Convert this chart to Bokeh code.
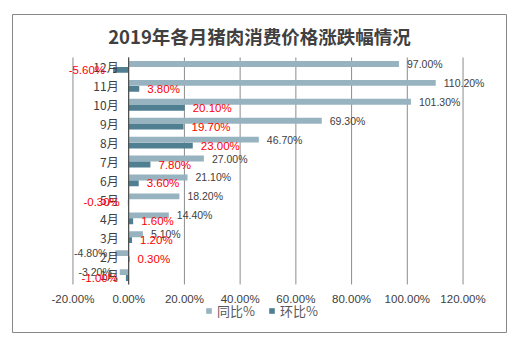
from bokeh.plotting import figure
from bokeh.models import (ColumnDataSource, Range1d, Legend, LegendItem)
from bokeh.core.properties import value
from bokeh.transform import dodge
from bokeh.embed import file_html
from bokeh.resources import INLINE

months = ["1月", "2月", "3月", "4月", "5月", "6月", "7月", "8月", "9月", "10月", "11月", "12月"]
yoy = [-3.20, -4.80, 5.10, 14.40, 18.20, 21.10, 27.00, 46.70, 69.30, 101.30, 110.20, 97.00]
mom = [-1.00, 0.30, 1.20, 1.60, -0.30, 3.60, 7.80, 23.00, 19.70, 20.10, 3.80, -5.60]
tick_values = [-20, 0, 20, 40, 60, 80, 100, 120]
tick_labels = ["-20.00%", "0.00%", "20.00%", "40.00%", "60.00%", "80.00%", "100.00%", "120.00%"]
series_names = ["同比%", "环比%"]
title_text = "2019年各月猪肉消费价格涨跌幅情况"

C_YOY = "#97B3C0"
C_MOM = "#4F7F91"
C_GRID = "#8C8C8C"
C_TEXT = "#404040"

# the frame is the whole bordered chart box; the plot area sits inside it
X_START, X_END = -41.7, 135.6
N = len(months)
Y_START, Y_END = -2.54, N + 2.27

def fmt(v):
    return f"{v:.2f}%"

pos = [i + 0.5 for i in range(N)]
src = ColumnDataSource(dict(month=months, pos=pos, yoy=yoy, mom=mom, zero=[0] * N))

def label_src(vals, positive):
    idx = [i for i, v in enumerate(vals) if (v >= 0) == positive]
    return ColumnDataSource(dict(pos=[pos[i] for i in idx],
                                 v=[vals[i] for i in idx],
                                 t=[fmt(vals[i]) for i in idx]))

p = figure(width=521, height=344, x_range=Range1d(X_START, X_END),
           y_range=Range1d(Y_START, Y_END),
           output_backend="svg", toolbar_location=None,
           min_border_left=12, min_border_right=15, min_border_top=14, min_border_bottom=12)
p.xaxis.visible = False
p.yaxis.visible = False
p.xgrid.visible = False
p.ygrid.visible = False
p.outline_line_color = "#878787"
p.outline_line_width = 1
p.background_fill_color = "white"
p.border_fill_color = "white"

# vertical grid lines over the plot area only
grid_src = ColumnDataSource(dict(x=tick_values, y0=[0] * len(tick_values), y1=[N] * len(tick_values),
                                 lab=tick_labels))
p.segment(x0="x", y0="y0", x1="x", y1="y1", source=grid_src, line_color=C_GRID, line_width=1)

Y_TOP = dodge("pos", 0.155)
Y_BOT = dodge("pos", -0.16)

r1 = p.hbar(y=Y_TOP, right="yoy", left=0, height=0.31,
            source=src, fill_color=C_YOY, line_color=None)
r2 = p.hbar(y=Y_BOT, right="mom", left=0, height=0.31,
            source=src, fill_color=C_MOM, line_color=None)

# category axis line at zero
p.segment(x0=[0], y0=[0], x1=[0], y1=[N], line_color=C_TEXT, line_width=1)

# month labels next to the zero axis
p.text(x="zero", y="pos", text="month", source=src, text_align="right",
       x_offset=-10, text_baseline="middle", text_font_size="12px",
       text_color=C_TEXT, text_font=value("Noto Sans CJK SC"))

# value axis tick labels
p.text(x="x", y="y0", text="lab", source=grid_src, text_align="center",
       y_offset=15, text_baseline="middle", text_font_size="11.5px",
       text_color=C_TEXT, text_font=value("Liberation Sans"))

# data labels
for vals, yy, size, color in ((yoy, Y_TOP, "10.5px", C_TEXT), (mom, Y_BOT, "11.5px", "#FF0000")):
    for positive in (True, False):
        p.text(x="v", y=yy, text="t", source=label_src(vals, positive),
               text_align="left" if positive else "right",
               x_offset=8 if positive else -8, text_baseline="middle",
               text_font_size=size, text_color=color, text_font=value("Liberation Sans"))

# title
p.text(x=[(X_START + X_END) / 2], y=[Y_END], text=[title_text], y_offset=21,
       text_align="center", text_baseline="middle", text_font_size="18.5px",
       text_font_style="bold", text_color=C_TEXT, text_font=value("Noto Sans CJK SC"))

legend = Legend(items=[LegendItem(label=series_names[0], renderers=[r1]),
                       LegendItem(label=series_names[1], renderers=[r2])],
                orientation="horizontal", location=(193, 12),
                border_line_color=None, background_fill_alpha=0,
                glyph_width=7, glyph_height=7, label_standoff=5, spacing=13,
                label_height=14,
                label_text_font="Noto Sans CJK SC", label_text_font_size="13px",
                label_text_color="#595959", padding=0)
p.add_layout(legend)

open("out.html", "w").write(file_html(p, INLINE))
